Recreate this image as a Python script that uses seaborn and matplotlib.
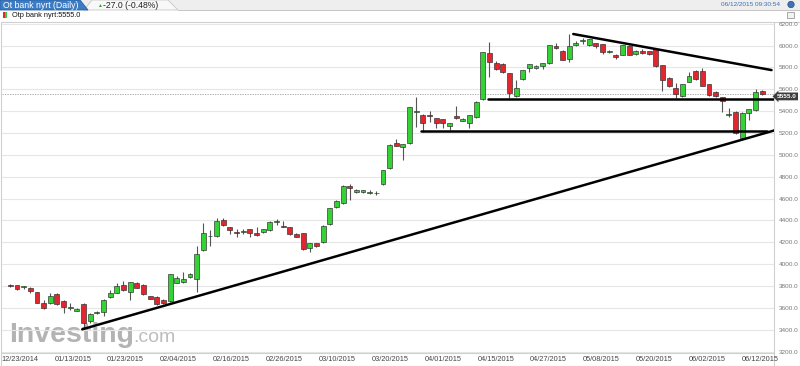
import matplotlib
matplotlib.use("Agg")
import matplotlib.pyplot as plt
import numpy as np
import pandas as pd
import seaborn as sns
from matplotlib.patches import Polygon, Rectangle


# daily OHLC, 12/22/2014 .. 06/12/2015 (one entry per trading day)
opens = [3810, 3806, 3790, 3785, 3742, 3647, 3642, 3724, 3663, 3596,
         3574, 3635, 3483, 3550, 3565, 3697, 3739, 3809, 3742, 3830,
         3809, 3708, 3699, 3672, 3663, 3830, 3835, 3885, 3860, 4129,
         4255, 4256, 4403, 4336, 4288, 4294, 4318, 4287, 4290, 4312,
         4388, 4347, 4336, 4278, 4282, 4146, 4191, 4203, 4367, 4519,
         4556, 4717, 4656, 4656, 4654, 4652, 4733, 4877, 5111, 5075,
         5106, 5393, 5365, 5360, 5334, 5325, 5264, 5352, 5313, 5289,
         5344, 5508, 5929, 5838, 5828, 5746, 5541, 5691, 5797, 5797,
         5813, 5838, 5999, 5953, 5874, 6005, 6042, 6005, 6021, 6012,
         5938, 5914, 5914, 5996, 5920, 5953, 5950, 5966, 5822, 5706,
         5609, 5538, 5669, 5770, 5770, 5648, 5578, 5527, 5369, 5395,
         5151, 5386, 5410, 5584]
highs = [3815, 3810, 3802, 3790, 3745, 3672, 3733, 3733, 3668, 3640,
         3595, 3640, 3550, 3568, 3680, 3760, 3830, 3850, 3840, 3836,
         3815, 3712, 3705, 3678, 3912, 3895, 3931, 3915, 4165, 4374,
         4310, 4420, 4425, 4340, 4320, 4320, 4325, 4340, 4322, 4395,
         4410, 4395, 4340, 4282, 4286, 4195, 4195, 4355, 4515, 4585,
         4720, 4735, 4685, 4680, 4680, 4665, 4866, 5095, 5142, 5104,
         5441, 5532, 5370, 5401, 5340, 5330, 5294, 5447, 5335, 5365,
         5490, 5942, 6035, 5860, 5845, 5750, 5685, 5780, 5836, 5825,
         5845, 6010, 6025, 5960, 6106, 6045, 6066, 6062, 6025, 6016,
         5958, 5920, 6010, 6001, 5960, 5965, 5955, 5970, 5826, 5712,
         5655, 5652, 5761, 5775, 5792, 5652, 5582, 5532, 5426, 5400,
         5390, 5422, 5600, 5590]
lows = [3795, 3765, 3770, 3733, 3640, 3590, 3635, 3625, 3550, 3580,
        3570, 3410, 3460, 3545, 3530, 3690, 3735, 3758, 3672, 3780,
        3720, 3680, 3630, 3638, 3658, 3825, 3830, 3870, 3748, 4120,
        4170, 4250, 4352, 4275, 4250, 4280, 4250, 4260, 4285, 4305,
        4360, 4343, 4268, 4244, 4132, 4115, 4160, 4198, 4360, 4514,
        4550, 4590, 4650, 4652, 4640, 4635, 4728, 4870, 5080, 4953,
        5100, 5258, 5212, 5303, 5243, 5243, 5227, 5330, 5310, 5243,
        5340, 5505, 5715, 5778, 5750, 5525, 5530, 5686, 5760, 5790,
        5790, 5833, 5970, 5864, 5850, 6000, 6014, 6000, 5975, 5923,
        5930, 5874, 5910, 5910, 5915, 5925, 5918, 5808, 5587, 5625,
        5517, 5530, 5664, 5686, 5628, 5540, 5534, 5395, 5349, 5190,
        5142, 5319, 5405, 5550]
closes = [3800, 3770, 3797, 3755, 3647, 3596, 3708, 3633, 3608, 3611,
          3587, 3464, 3544, 3562, 3672, 3733, 3803, 3763, 3834, 3785,
          3724, 3684, 3635, 3642, 3907, 3870, 3860, 3907, 4093, 4282,
          4262, 4396, 4357, 4312, 4287, 4298, 4282, 4265, 4318, 4390,
          4392, 4344, 4272, 4248, 4136, 4191, 4166, 4351, 4511, 4580,
          4717, 4696, 4678, 4675, 4658, 4648, 4861, 5090, 5084, 5099,
          5435, 5397, 5289, 5356, 5294, 5289, 5289, 5334, 5331, 5361,
          5486, 5938, 5847, 5783, 5755, 5563, 5609, 5776, 5831, 5816,
          5838, 6005, 5975, 5868, 5996, 6026, 6046, 6057, 5996, 5938,
          5953, 5898, 6005, 5914, 5953, 5929, 5923, 5813, 5685, 5630,
          5557, 5648, 5722, 5691, 5633, 5548, 5538, 5493, 5373, 5197,
          5386, 5417, 5578, 5555]

date_labels = ["12/23/2014", "01/13/2015", "01/23/2015", "02/04/2015",
               "02/16/2015", "02/26/2015", "03/10/2015", "03/20/2015",
               "04/01/2015", "04/15/2015", "04/27/2015", "05/08/2015",
               "05/20/2015", "06/02/2015", "06/12/2015"]
price_ticks = list(range(3200, 6201, 200))
last_price = 5555.0

# hand-drawn analysis lines: (start index, start price, end index, end price)
trend_lines = [
    (10.8, 3404, 115.4, 5234),   # rising support
    (84.6, 6106, 114.4, 5776),   # falling resistance
    (71.8, 5511, 115.6, 5511),   # horizontal support
    (61.7, 5218, 113.7, 5218),   # lower horizontal support
]

GREEN = "#35d235"
RED = "#e3262d"

sns.set_theme(style="white")
plt.rcParams["font.family"] = ["Liberation Sans", "DejaVu Sans"]

fig = plt.figure(figsize=(8, 3.66), dpi=100)

# background layer in pixel coordinates (header, frame, watermark)
bg = fig.add_axes([0, 0, 1, 1], zorder=0)
bg.set_xlim(0, 800)
bg.set_ylim(366, 0)
bg.axis("off")

bg.add_patch(Rectangle((0, 0), 800, 10, fc="#eeeeee", ec="none"))
bg.add_patch(Polygon([(92, 0), (168, 0), (178, 10), (84, 10)], closed=True,
                     fc="#f8f8f8", ec="#c8c8c8", lw=0.6))
bg.add_patch(Polygon([(0, 0), (80, 0), (88, 10), (0, 10)], closed=True,
                     fc="#3b7cc4", ec="#2a5f9e", lw=0.6))
bg.plot([178, 800], [10, 10], color="#c4c4c4", lw=0.7)
bg.text(3, 5.3, "Ot bank nyrt (Daily)", color="white", fontsize=6.3,
        va="center", ha="left")
bg.text(97, 5.3, "\u25b2", color="#2fa02f", fontsize=3.5, va="center")
bg.text(103, 5.3, "-27.0 (-0.48%)", color="#222222", fontsize=6.2, va="center")
bg.text(780, 4.5, "06/12/2015 09:30:54", color="#3a6db5", fontsize=4.6,
        va="center", ha="right")
bg.add_patch(plt.Circle((791, 4.5), 3.2, fc="#3f73b8", ec="#2a4f80", lw=0.5))
bg.add_patch(Rectangle((787, 12), 7, 6, fc="#f2f2f2", ec="#888888", lw=0.5))

bg.add_patch(Rectangle((3, 12), 2.2, 6, fc=RED, ec="none"))
bg.add_patch(Rectangle((5.2, 12), 2.2, 6, fc=GREEN, ec="none"))
bg.text(12, 15.3, "Otp bank nyrt:5555.0", color="#111111", fontsize=5.3,
        va="center", ha="left")

bg.add_patch(Rectangle((0.5, 21.5), 799, 344, fc="none", ec="#d0d0d0", lw=0.8))
bg.plot([774, 774], [22, 366], color="#d0d0d0", lw=0.8)

bg.text(9, 342, "Investing", color="#b3b3b3", fontsize=20.5,
        fontweight="bold", va="baseline", ha="left")
bg.text(133, 342, ".com", color="#bdbdbd", fontsize=14, va="baseline", ha="left")

# price panel
ax = fig.add_axes([2 / 800, (366 - 353) / 366, 772 / 800, (353 - 22) / 366], zorder=1)
ax.patch.set_alpha(0)

df = pd.DataFrame({"open": opens, "high": highs, "low": lows, "close": closes})
df["idx"] = np.arange(len(df))
df["up"] = df["close"] >= df["open"]
df["bottom"] = df[["open", "close"]].min(axis=1)
df["height"] = (df["close"] - df["open"]).abs().clip(lower=7)

ax.vlines(df["idx"], df["low"], df["high"], color="#555555", lw=0.8, zorder=2)
ax.bar(df["idx"], df["height"], bottom=df["bottom"], width=0.74,
       color=np.where(df["up"], GREEN, RED), edgecolor="#2b2b2b",
       linewidth=0.45, zorder=3)

lines_df = pd.DataFrame(
    [(k, x0, p0) for k, (x0, p0, x1, p1) in enumerate(trend_lines)]
    + [(k, x1, p1) for k, (x0, p0, x1, p1) in enumerate(trend_lines)],
    columns=["line", "x", "price"],
)
sns.lineplot(data=lines_df, x="x", y="price", units="line", estimator=None,
             color="black", lw=1.8, ax=ax, zorder=4)

ax.axhline(last_price, color="#9a9a9a", ls=(0, (1.5, 1.5)), lw=0.6, zorder=1)
ax.text(1.0165, last_price - 20, "%.1f" % last_price, transform=ax.get_yaxis_transform(),
        ha="center", va="center", color="white", fontsize=4.6, fontweight="bold",
        clip_on=False, zorder=6,
        bbox=dict(boxstyle="larrow,pad=0.22", fc="#3d3d3d", ec="none"))

ax.set_xlim(-1.26, 114.77)
ax.set_ylim(3187, 6216)
ax.set_yticks(price_ticks)
ax.set_yticklabels(["%.1f" % p for p in price_ticks])
ax.yaxis.tick_right()
ax.set_xticks(1.44 + 7.944 * np.arange(len(date_labels)))
ax.set_xticklabels(date_labels)
ax.tick_params(axis="y", length=0, pad=3.5, labelsize=4.6, labelcolor="#777777")
ax.tick_params(axis="x", length=0, pad=2.5, labelsize=5.3, labelcolor="#444444")
ax.grid(axis="y", color="#e6e6e6", lw=0.8)
ax.set_axisbelow(True)
ax.set_xlabel("")
ax.set_ylabel("")
for side in ["left", "top", "right"]:
    ax.spines[side].set_visible(False)
ax.spines["bottom"].set_color("#d0d0d0")
ax.spines["bottom"].set_linewidth(0.8)

fig.savefig("out.png", dpi=100)
